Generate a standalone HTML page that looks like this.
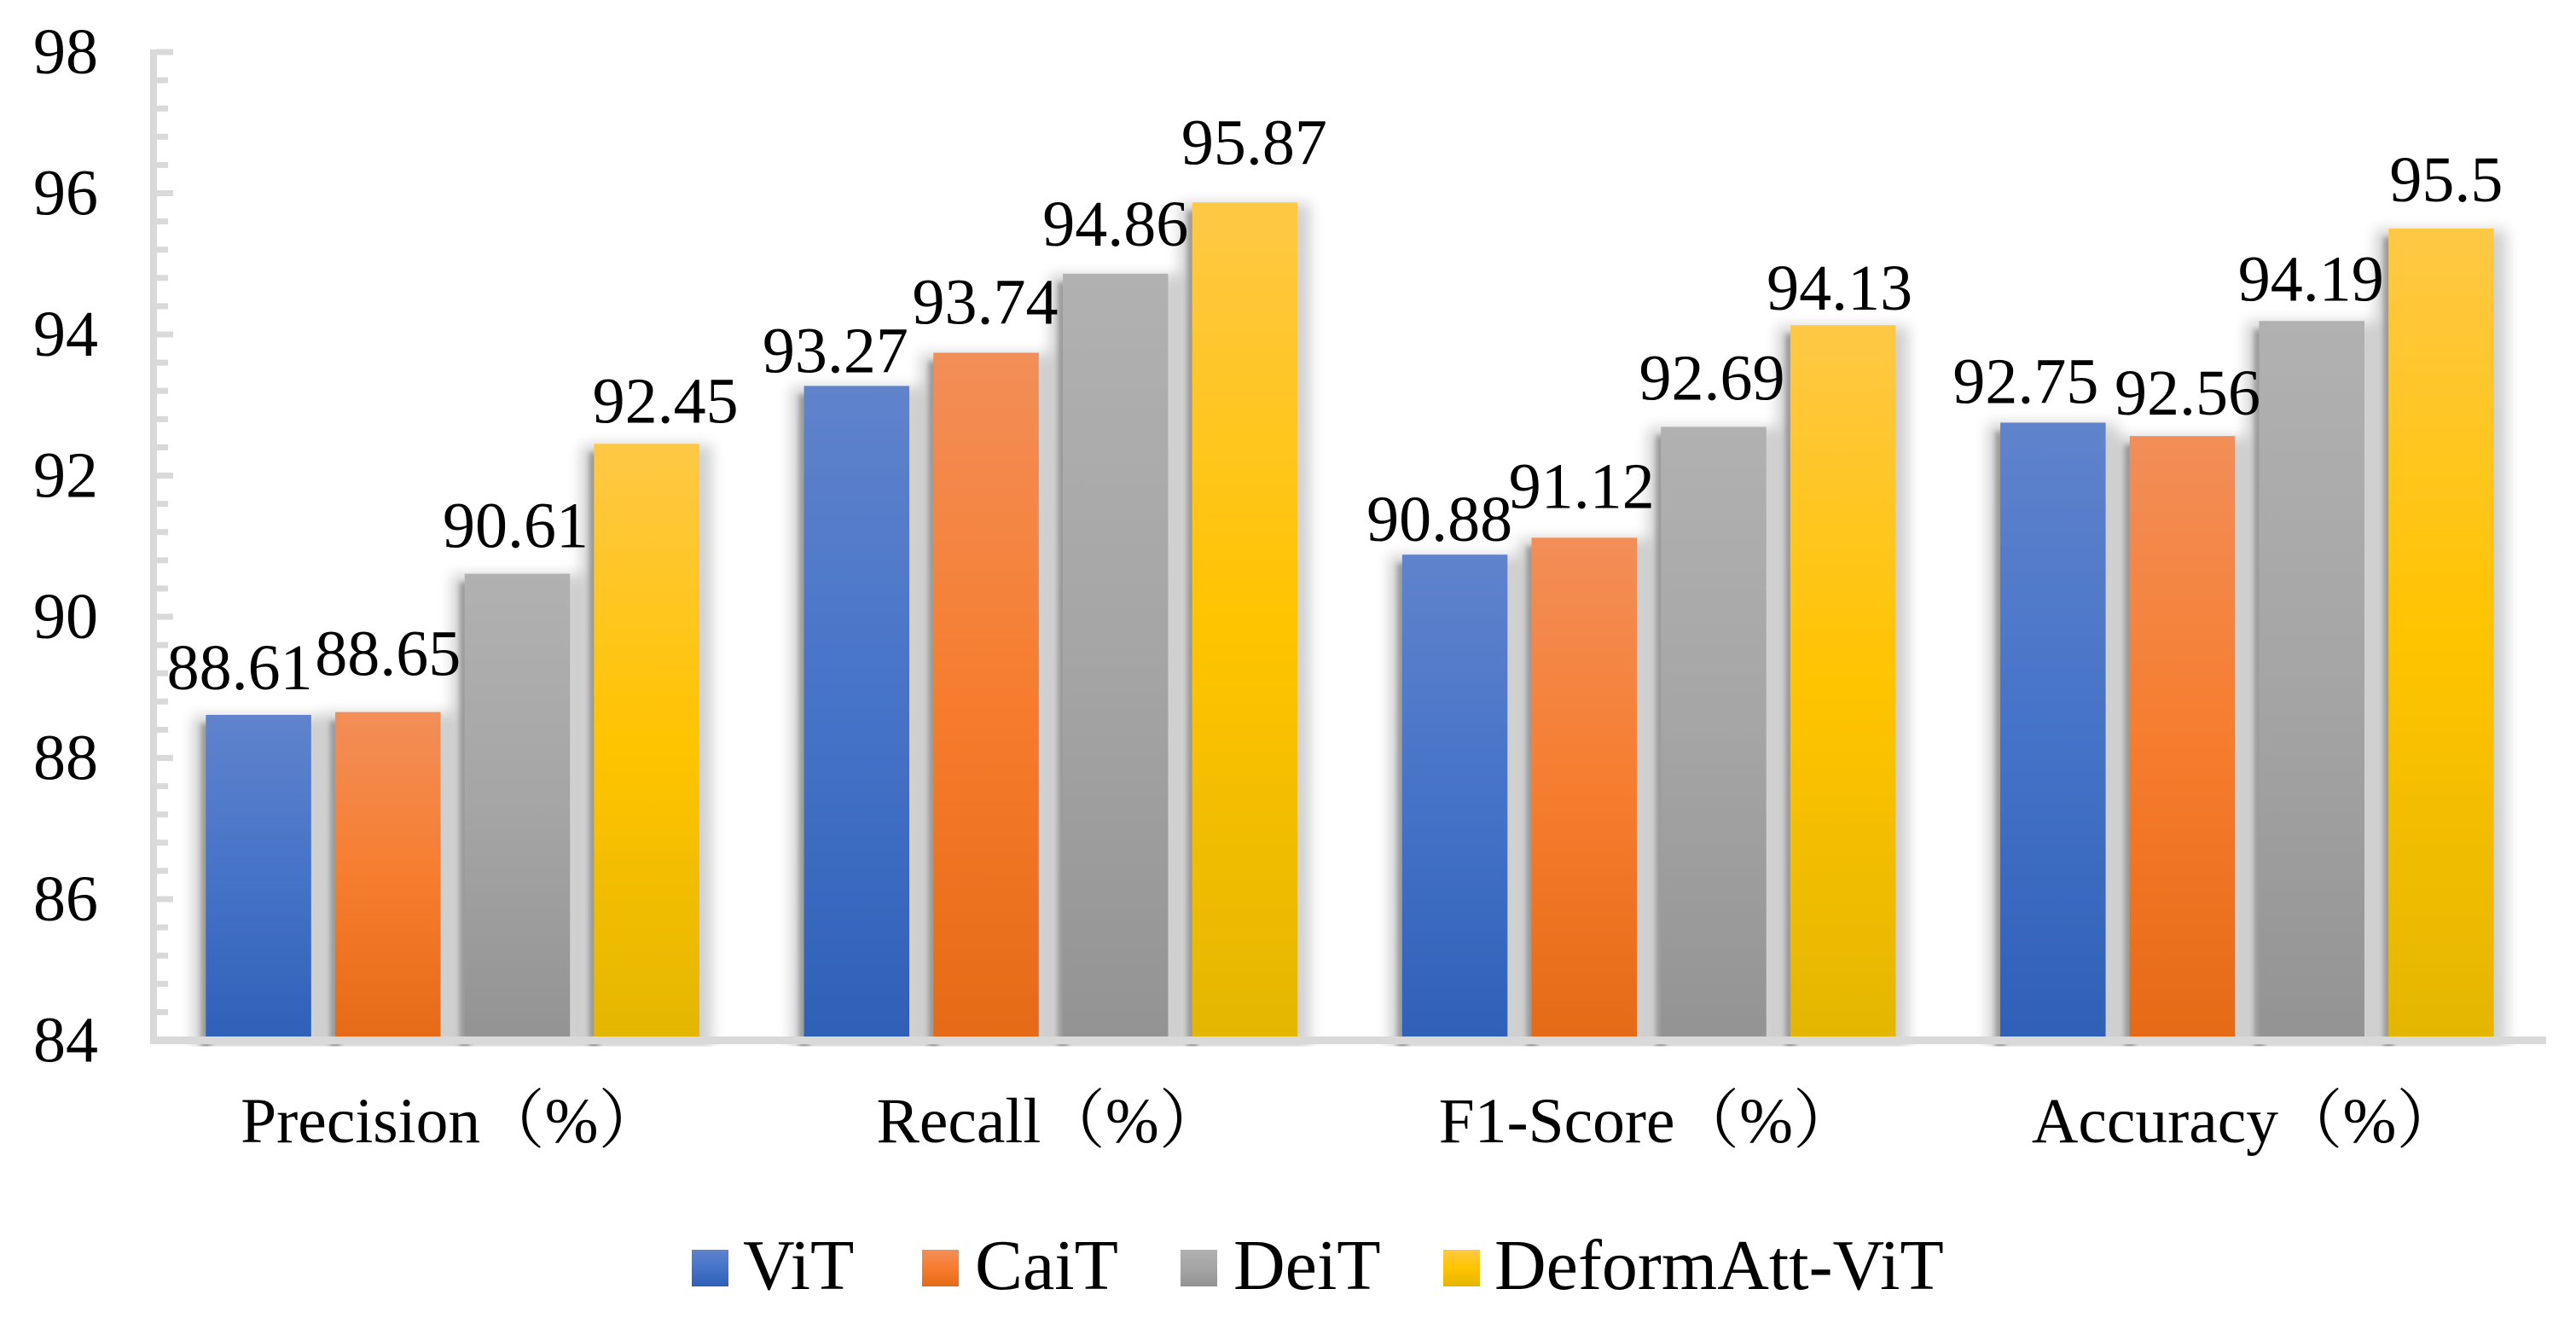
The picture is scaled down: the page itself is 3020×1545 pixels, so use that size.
<!DOCTYPE html>
<html lang="en">
<head>
<meta charset="utf-8">
<title>Model comparison bar chart</title>
<style>
html,body{margin:0;padding:0;background:#fff;}
body{width:3020px;height:1545px;overflow:hidden;}
svg{display:block;}
text{font-family:"Liberation Serif","Noto Serif CJK SC",serif;fill:#000;}
</style>
</head>
<body>
<svg id="chart" xmlns="http://www.w3.org/2000/svg" width="3020" height="1545" viewBox="0 0 3020 1545">
  <defs>
    <linearGradient id="grad-0" x1="0" y1="0" x2="0" y2="1"><stop offset="0" stop-color="#6083cc"/><stop offset=".5" stop-color="#4573c8"/><stop offset="1" stop-color="#2e60b8"/></linearGradient>
    <linearGradient id="grad-1" x1="0" y1="0" x2="0" y2="1"><stop offset="0" stop-color="#f28e58"/><stop offset=".5" stop-color="#f67d2e"/><stop offset="1" stop-color="#e56a16"/></linearGradient>
    <linearGradient id="grad-2" x1="0" y1="0" x2="0" y2="1"><stop offset="0" stop-color="#b1b1b1"/><stop offset=".5" stop-color="#a5a5a5"/><stop offset="1" stop-color="#939393"/></linearGradient>
    <linearGradient id="grad-3" x1="0" y1="0" x2="0" y2="1"><stop offset="0" stop-color="#ffc845"/><stop offset=".5" stop-color="#ffc400"/><stop offset="1" stop-color="#e4b601"/></linearGradient>
    <filter id="soft-shadow" x="-50%" y="-15%" width="200%" height="130%"><feGaussianBlur stdDeviation="8"/></filter>
    <filter id="edge-shadow" x="-200%" y="-10%" width="500%" height="120%"><feGaussianBlur stdDeviation="3"/></filter>
    <clipPath id="shadow-clip"><rect x="0" y="0" width="3020" height="1226.5"/></clipPath>
  </defs>
  <g id="shadows" clip-path="url(#shadow-clip)"></g>
  <g id="bars"></g>
  <g id="axes"></g>
  <g id="labels"></g>
  <g id="legend"></g>
</svg>
<script>
const categories = ["Precision（%）", "Recall（%）", "F1-Score（%）", "Accuracy（%）"];
const seriesNames = ["ViT", "CaiT", "DeiT", "DeformAtt-ViT"];
const vitValues = [88.61, 93.27, 90.88, 92.75];
const caitValues = [88.65, 93.74, 91.12, 92.56];
const deitValues = [90.61, 94.86, 92.69, 94.19];
const deformValues = [92.45, 95.87, 94.13, 95.5];
const yTickLabels = [84, 86, 88, 90, 92, 94, 96, 98];

const seriesValues = [vitValues, caitValues, deitValues, deformValues];
const NS = "http://www.w3.org/2000/svg";
const plot = {left: 180, right: 2985, y84: 1219.5, unit: 82.75, barW: 123.5, pitch: 151.7};
const yScale = v => plot.y84 - (v - yTickLabels[0]) * plot.unit;
const groupW = (plot.right - plot.left) / categories.length;
const groupCenter = i => plot.left + groupW * (i + .5);
const barX = (g, s) => groupCenter(g) - 1.5 * plot.pitch - plot.barW / 2 + s * plot.pitch;

function make(tag, attrs, parent, txt) {
  const el = document.createElementNS(NS, tag);
  for (const k in attrs) el.setAttribute(k, attrs[k]);
  if (txt !== undefined) el.textContent = txt;
  parent.appendChild(el);
  return el;
}
const shadows = document.getElementById("shadows");
const bars = document.getElementById("bars");
const axes = document.getElementById("axes");
const labels = document.getElementById("labels");
const legend = document.getElementById("legend");

/* manual placement of the data labels relative to their bar: [dx, dy] */
const labelNudge = [
  [[-22,-30],[0,-43],[-2,-31],[22,-25]],
  [[-25,-16],[-1,-34],[0,-33],[11,-45]],
  [[-18,-16],[-3,-35],[-2,-32],[-4,-18]],
  [[-32,-23],[6,-25],[-1,-24],[6,-32]]
];

seriesValues.forEach((vals, s) => {
  vals.forEach((v, g) => {
    const x = barX(g, s), top = yScale(v), h = plot.y84 + 4 - top;
    const soft = make("rect", {x: x - 15, y: top + 1, width: plot.barW + 30, height: h + 6, fill: "#000", opacity: .18, filter: "url(#soft-shadow)"}, shadows);
    
    
    const edge = make("rect", {x: x - 6, y: top + 10, width: 12, height: h + 3, fill: "#000", opacity: .26, filter: "url(#edge-shadow)"}, shadows);
    
    
    const bar = make("rect", {x: x, y: top, width: plot.barW, height: h, fill: "url(#grad-" + s + ")"}, bars);
    
    
    const n = labelNudge[g][s];
    const lab = make("text", {x: x + plot.barW / 2 + n[0], y: top + n[1], "font-size": 76, "text-anchor": "middle"}, labels, String(v));
    
    
  });
});

/* axes */
const yLine = make("rect", {x: 176, y: 58, width: 8, height: 1166, fill: "#d9d9d9"}, axes);


const xLine = make("rect", {x: 179, y: 1215, width: plot.right - 179, height: 9, fill: "#d9d9d9"}, axes);


yTickLabels.forEach((t, i) => {
  const y = yScale(t);
  if (i > 0) {
    const major = make("rect", {x: 184, y: y - 3.5, width: 19, height: 7, fill: "#d9d9d9"}, axes);
    
    
  }
  if (i < yTickLabels.length - 1) {
    for (let m = 1; m < 5; m++) {
      const minor = make("rect", {x: 184, y: yScale(t + m * .4) - 3.5, width: 13, height: 7, fill: "#d9d9d9"}, axes);
      
      
    }
  }
  const lab = make("text", {x: 115, y: y + 25, "font-size": 76, "text-anchor": "end"}, axes, String(t));
  
  
});
categories.forEach((c, g) => {
  const lab = make("text", {x: groupCenter(g) - 1, y: 1339, "font-size": 75.5, "text-anchor": "middle"}, axes, c);
  
  
});

/* legend */
const legendSwatchX = [811, 1081, 1384, 1692];
const legendTextX = [871, 1143, 1446, 1752];
seriesNames.forEach((name, s) => {
  const sw = make("rect", {x: legendSwatchX[s], y: 1465, width: 43, height: 43, fill: "url(#grad-" + s + ")"}, legend);
  
  
  const tx = make("text", {x: legendTextX[s], y: 1511, "font-size": 84}, legend, name);
  
  
});
</script>
</body>
</html>
